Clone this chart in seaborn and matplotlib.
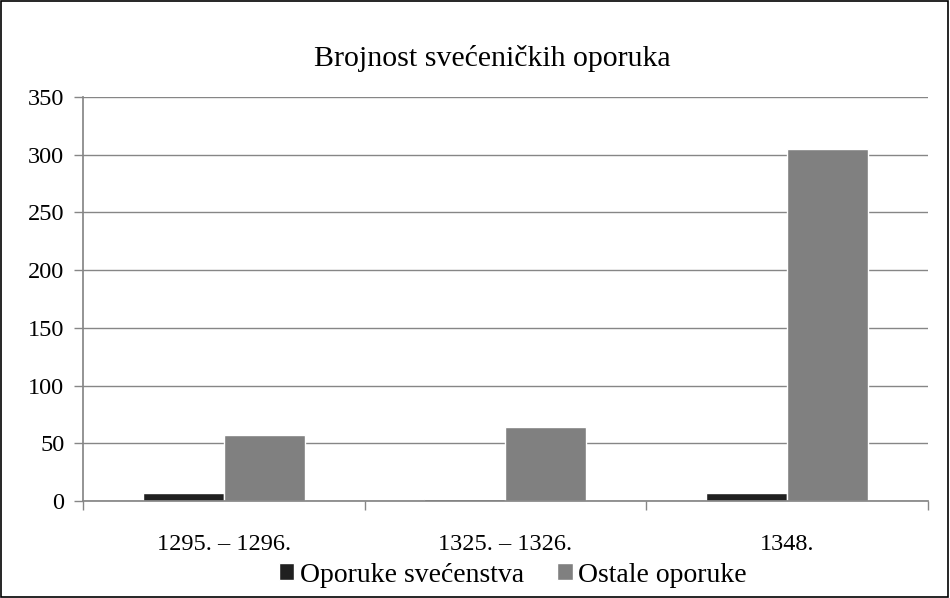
import pandas as pd
import matplotlib.pyplot as plt
import seaborn as sns
from matplotlib.patches import Rectangle
from matplotlib.ticker import FixedLocator

# donnees
razdoblja = ["1295. – 1296.", "1325. – 1326.", "1348."]
svecenstvo = [7, 2, 7]
ostale = [57, 64, 305]
serije = ["Oporuke svećenstva", "Ostale oporuke"]

df = pd.DataFrame({
    "razdoblje": razdoblja * 2,
    "broj": svecenstvo + ostale,
    "vrsta": [serije[0]] * 3 + [serije[1]] * 3,
})

sns.set_theme(style="white")
plt.rcParams['font.family'] = ['Liberation Serif', 'DejaVu Serif']

fig = plt.figure(figsize=(9.5, 5.98), dpi=100)
ax = fig.add_axes([0.0874, 0.1622, 0.8891, 0.6756])

sns.barplot(data=df, x="razdoblje", y="broj", hue="vrsta",
            palette=["#202020", "#808080"], saturation=1,
            width=0.575, gap=0, ax=ax, legend=True)

ax.set_ylim(0, 350)
ax.set_xlim(-0.5, 2.5)
ax.set_yticks(range(0, 351, 50))
ax.yaxis.grid(True, color="#868686", linewidth=1)
ax.set_axisbelow(True)
ax.set_xlabel("")
ax.set_ylabel("")

for s in ["top", "right"]:
    ax.spines[s].set_visible(False)
ax.spines["left"].set_color("#868686")
ax.spines["bottom"].set_color("#868686")

ax.tick_params(axis="y", left=True, length=6.5, color="#868686",
               width=1, pad=7, labelsize=17.5, labelcolor="black")
ax.tick_params(axis="x", which="major", length=0, pad=24, labelsize=17.5,
               labelcolor="black")
ax.xaxis.set_minor_locator(FixedLocator([-0.5, 0.5, 1.5, 2.5]))
ax.tick_params(axis="x", which="minor", bottom=True, length=6.5,
               color="#868686", width=1)

ax.set_title("Brojnost svećeničkih oporuka", fontsize=21.5, pad=22,
             color="black", x=0.484)

h, l = ax.get_legend_handles_labels()
ax.get_legend().remove()
fig.legend(h, l, loc="center", bbox_to_anchor=(0.54, 1 - 575 / 598), ncol=2,
           frameon=False, fontsize=20, handlelength=0.55, handleheight=0.55,
           handletextpad=0.2, columnspacing=1.2, labelcolor="black")

# okvir oko grafikona
fig.patches.append(Rectangle((0.001, 0.002), 0.997, 0.996, transform=fig.transFigure,
                             fill=False, edgecolor="black", linewidth=1.2))

fig.savefig("out.png", dpi=100)
